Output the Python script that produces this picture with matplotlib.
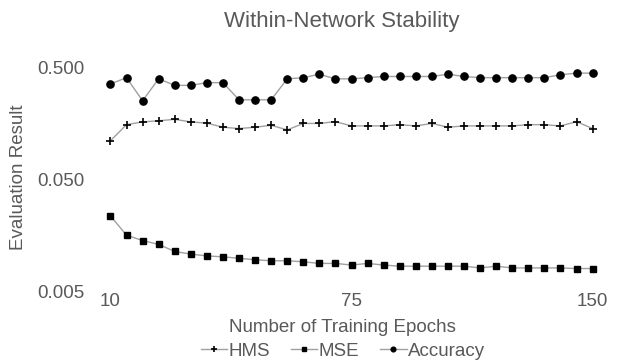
import numpy as np
import matplotlib.pyplot as plt
from matplotlib.ticker import FixedLocator, NullLocator

plt.rcParams['font.family'] = ['Liberation Sans', 'DejaVu Sans']

# 31 evaluation points, labelled only at first / middle / last
tick_idx = [0, 15, 30]
tick_labels = ['10', '75', '150']

hms = [0.112, 0.156, 0.165, 0.169, 0.174, 0.165, 0.161, 0.148, 0.144, 0.148,
       0.154, 0.140, 0.160, 0.160, 0.166, 0.152, 0.152, 0.152, 0.156, 0.152,
       0.160, 0.148, 0.152, 0.152, 0.152, 0.152, 0.156, 0.156, 0.152, 0.166,
       0.144]
mse = [0.0239, 0.0161, 0.0144, 0.0133, 0.0115, 0.0109, 0.0105, 0.0103, 0.0100,
       0.0097, 0.0095, 0.0095, 0.0093, 0.0090, 0.0090, 0.0087, 0.0090, 0.0087,
       0.0085, 0.0085, 0.0085, 0.0085, 0.0085, 0.0082, 0.0085, 0.0082, 0.0082,
       0.0082, 0.0082, 0.0081, 0.0081]
accuracy = [0.36, 0.41, 0.255, 0.40, 0.35, 0.35, 0.37, 0.37, 0.26, 0.26, 0.26,
            0.40, 0.41, 0.44, 0.40, 0.40, 0.41, 0.42, 0.42, 0.42, 0.42, 0.44,
            0.42, 0.41, 0.41, 0.41, 0.41, 0.41, 0.435, 0.45, 0.45]

x = np.arange(len(hms))
grey = '#595959'
line_col = '#a0a0a0'

fig = plt.figure(figsize=(6.2, 3.6), dpi=100)
ax = fig.add_axes([104/620, 1 - 292/360, (599-104)/620, (292-68)/360])

ax.plot(x, hms, color=line_col, lw=1.0, marker='+', ms=6, mec='black',
        mew=1.2, label='HMS')
ax.plot(x, mse, color=line_col, lw=1.0, marker='s', ms=4.2, mec='black',
        mfc='black', label='MSE')
ax.plot(x, accuracy, color=line_col, lw=1.0, marker='o', ms=5.2, mec='black',
        mfc='black', label='Accuracy')

ax.set_yscale('log')
ax.set_ylim(0.005, 0.5)
ax.yaxis.set_major_locator(FixedLocator([0.005, 0.05, 0.5]))
ax.yaxis.set_minor_locator(NullLocator())
ax.set_yticklabels(['0.005', '0.050', '0.500'])
ax.set_xlim(-0.4, 30.4)
ax.set_xticks(tick_idx)
ax.set_xticklabels(tick_labels)

for s in ax.spines.values():
    s.set_visible(False)
ax.tick_params(length=0, labelsize=13.5, colors=grey)
ax.tick_params(axis='y', pad=14)
ax.tick_params(axis='x', pad=1)

fig.text(342/620, 1 - 22/360, 'Within-Network Stability', fontsize=16,
         color=grey, ha='center', va='center')
fig.text(342/620, 1 - 328/360, 'Number of Training Epochs', fontsize=13.5,
         color=grey, ha='center', va='center')
fig.text(19/620, 1 - 177/360, 'Evaluation Result', fontsize=13.5,
         color=grey, ha='center', va='center', rotation=90)

leg = fig.legend(*ax.get_legend_handles_labels(), loc='center',
                 bbox_to_anchor=(343/620, 1 - 351/360), ncol=3,
                 frameon=False, fontsize=13.5, handlelength=1.4,
                 handletextpad=0.1, columnspacing=1.1, markerscale=0.65,
                 borderpad=0)
for t in leg.get_texts():
    t.set_color(grey)

fig.savefig('out.png', dpi=100)
